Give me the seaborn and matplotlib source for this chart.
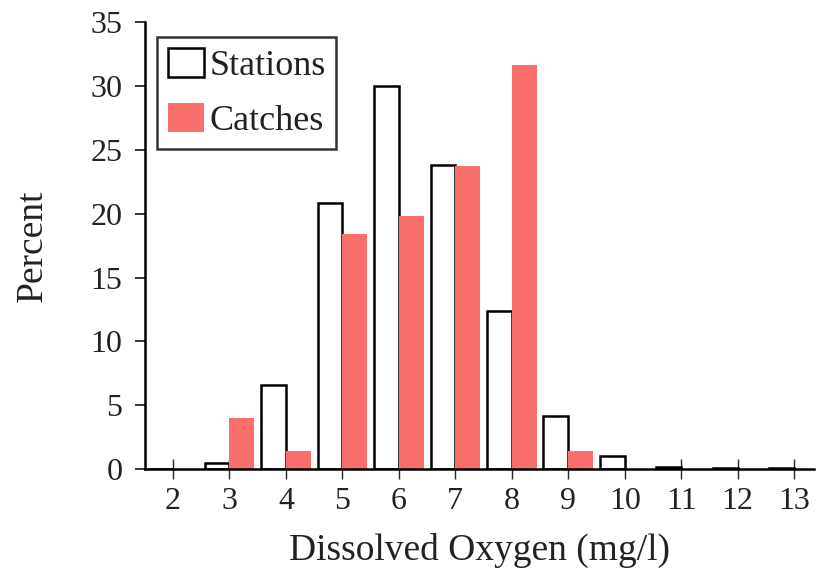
import numpy as np
import pandas as pd
import matplotlib
matplotlib.use("Agg")
import matplotlib.pyplot as plt
import seaborn as sns
from matplotlib.patches import Patch

oxygen = [2, 3, 4, 5, 6, 7, 8, 9, 10, 11, 12, 13]
stations = [0, 0.5, 6.6, 20.8, 30.0, 23.8, 12.4, 4.2, 1.0, 0.2, 0.1, 0.1]
catches = [0, 4.0, 1.4, 18.4, 19.8, 23.7, 31.6, 1.4, 0, 0, 0, 0]

df = pd.DataFrame({
    "oxygen": oxygen * 2,
    "percent": stations + catches,
    "group": ["Stations"] * len(oxygen) + ["Catches"] * len(oxygen),
})

sns.set_style("white")
plt.rcParams["font.family"] = ["Liberation Serif", "DejaVu Serif"]

red = "#f96f6b"
fig = plt.figure(figsize=(8.18, 5.8), dpi=100)
ax = fig.add_axes([0.177, 0.191, 0.818, 0.771])

sns.barplot(data=df, x="oxygen", y="percent", hue="group", order=oxygen,
            hue_order=["Stations", "Catches"],
            palette={"Stations": "white", "Catches": red},
            width=0.88, dodge=True, ax=ax, legend=False, saturation=1)

n = len(oxygen)
for i, p in enumerate(ax.patches[:2 * n]):
    if i < n:
        p.set_edgecolor("black")
        p.set_linewidth(1.8)
    else:
        p.set_edgecolor("none")

ax.set_xlim(-0.5, 11.35)
ax.set_ylim(0, 35)
ax.set_yticks(np.arange(0, 36, 5))
ax.set_xticks(range(n))
ax.set_xticklabels([str(v) for v in oxygen])

sns.despine(ax=ax)
for s in ["left", "bottom"]:
    ax.spines[s].set_linewidth(1.8)
    ax.spines[s].set_color("black")

ax.tick_params(axis="y", direction="out", length=7, width=1.3, labelsize=23, pad=9, left=True)
ax.tick_params(axis="x", direction="inout", length=14, width=1.0, labelsize=23, pad=6, bottom=True)
ax.set_xlabel("Dissolved Oxygen (mg/l)", fontsize=27, labelpad=12, color="#222222")
ax.set_ylabel("Percent", fontsize=27, labelpad=29, color="#222222")
for t in ax.get_xticklabels() + ax.get_yticklabels():
    t.set_color("#222222")

handles = [Patch(facecolor="white", edgecolor="black", linewidth=1.8, label="Stations"),
           Patch(facecolor=red, edgecolor="none", label="Catches")]
leg = ax.legend(handles=handles, loc="upper left", bbox_to_anchor=(0.018, 0.966),
                fontsize=26, frameon=True, fancybox=False, handlelength=1.0,
                handleheight=0.85, handletextpad=0.15, borderpad=0.3,
                labelspacing=0.55, borderaxespad=0)
leg.get_frame().set_edgecolor("black")
leg.get_frame().set_linewidth(1.8)
for t in leg.get_texts():
    t.set_color("#222222")

fig.savefig("out.png", dpi=100)
